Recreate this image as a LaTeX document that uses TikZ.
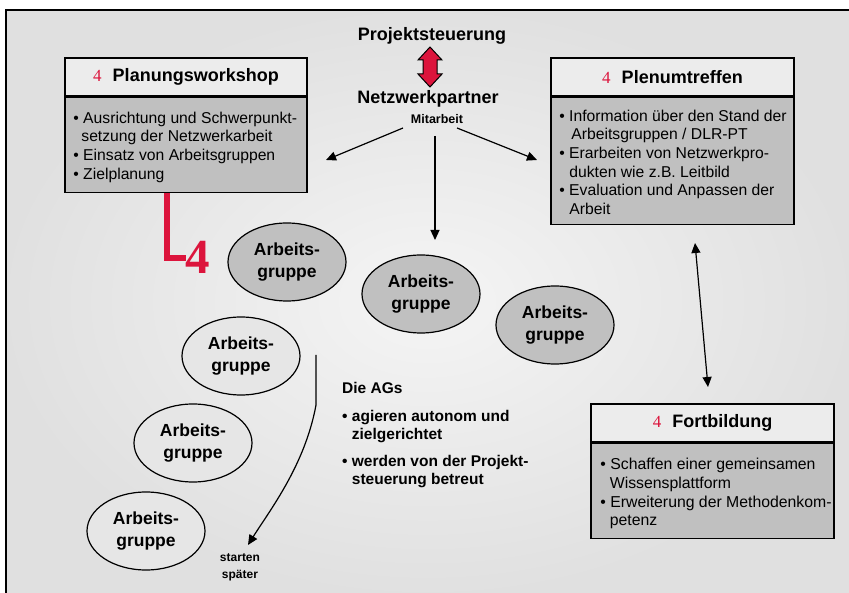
\documentclass[tikz,border=0pt]{standalone}
\usepackage{fontspec}
\setmainfont{Liberation Sans}
\newfontfamily\seriffam{Liberation Serif}
\usetikzlibrary{arrows.meta,shapes.geometric}
\definecolor{crim}{HTML}{DC143C}
\definecolor{boxgray}{HTML}{C0C0C0}
\definecolor{hdrgray}{HTML}{ECECEC}
\definecolor{ellight}{HTML}{E6E6E6}
\begin{document}
\begin{tikzpicture}[x=1pt,y=-1pt,
 hdr/.style={draw=black,line width=1.6pt,fill=hdrgray,minimum width=242pt,minimum height=38pt,inner sep=0pt,font=\fontsize{18}{20}\selectfont\bfseries},
 bodybox/.style={draw=black,line width=1.6pt,fill=boxgray,minimum width=242pt,inner sep=0pt,anchor=north},
 bodytxt/.style={anchor=north west,align=left,inner sep=0pt,font=\fontsize{15.7}{18.6}\selectfont},
 ag/.style={ellipse,draw=black,line width=1.2pt,minimum width=118pt,minimum height=78pt,inner sep=0pt,align=center,font=\fontsize{17.5}{21.5}\selectfont\bfseries},
 agd/.style={ag,fill=boxgray},
 agl/.style={ag,fill=ellight},
 arr/.style={-{Triangle[length=10pt,width=9pt]},line width=1.2pt},
 darr/.style={{Triangle[length=10pt,width=9pt]}-{Triangle[length=10pt,width=9pt]},line width=1.2pt},
 lbl/.style={inner sep=0pt,font=\bfseries},
]
\useasboundingbox (0,0) rectangle (849,593);
\fill[white] (0,0) rectangle (849,593);
\shade[inner color=white!96!black, outer color=white!88!black] (6,10) rectangle (849,593);
\draw[line width=1.5pt] (6,593) -- (6,10) -- (849,10);

% top labels
\node[lbl,font=\fontsize{18}{20}\selectfont\bfseries] (ps) at (432,36) {Projektsteuerung};
\node[lbl,font=\fontsize{18}{20}\selectfont\bfseries] (np) at (428,99) {Netzwerkpartner};
\node[lbl,font=\fontsize{12.5}{14}\selectfont\bfseries] (ma) at (437,119) {Mitarbeit};

% red double arrow
\coordinate (dtop) at (430,47);
\filldraw[fill=crim,draw=black,line width=1pt] (dtop) -- ++(12,13) -- ++(-5,0) -- ++(0,14) -- ++(5,0) -- ++(-12,13) -- ++(-12,-13) -- ++(5,0) -- ++(0,-14) -- ++(-5,0) -- cycle;

% Planungsworkshop
\node[hdr] (pw) at (186,77) {\textcolor{crim}{\fontsize{17}{17}\selectfont\seriffam\mdseries 4}\hspace{11pt}Planungsworkshop};
\node[bodybox,minimum height=95pt] (pwb) at (pw.south) {};
\node[bodytxt] (pwt) at ([xshift=9pt,yshift=-15pt]pwb.north west) {\textbullet\ Ausrichtung und Schwerpunkt-\\\hspace*{8pt}setzung der Netzwerkarbeit\\\textbullet\ Einsatz von Arbeitsgruppen\\\textbullet\ Zielplanung};

% Plenumtreffen
\node[hdr,minimum width=243pt] (pt) at (672.5,77) {\textcolor{crim}{\fontsize{17}{17}\selectfont\seriffam\mdseries 4}\hspace{11pt}Plenumtreffen};
\node[bodybox,minimum width=243pt,minimum height=127pt] (ptb) at (pt.south) {};
\node[bodytxt] (ptt) at ([xshift=9pt,yshift=-13pt]ptb.north west) {\textbullet\ Information über den Stand der\\\hspace*{12pt}Arbeitsgruppen / DLR-PT\\\textbullet\ Erarbeiten von Netzwerkpro-\\\hspace*{10pt}dukten wie z.B. Leitbild\\\textbullet\ Evaluation und Anpassen der\\\hspace*{10pt}Arbeit};

% Fortbildung
\node[hdr,minimum width=243pt] (fb) at (712.5,423) {\textcolor{crim}{\fontsize{17}{17}\selectfont\seriffam\mdseries 4}\hspace{11pt}Fortbildung};
\node[bodybox,minimum width=243pt,minimum height=95pt] (fbb) at (fb.south) {};
\node[bodytxt,font=\fontsize{15.8}{18.8}\selectfont] (fbt) at ([xshift=10pt,yshift=-15pt]fbb.north west) {\textbullet\ Schaffen einer gemeinsamen\\\hspace*{9.5pt}Wissensplattform\\\textbullet\ Erweiterung der Methodenkom-\\\hspace*{9.5pt}petenz};

% red L and big 4
\node[inner sep=0pt,text=crim,font=\fontsize{49}{49}\selectfont\seriffam\bfseries] (big4) at (198,257) {4};
\coordinate (lcorner) at (167,258);
\draw[crim,line width=5.5pt] (pwb.south -| lcorner) -- (lcorner) -- (big4.west |- lcorner);

% Arbeitsgruppen
\node[agd] (ag1) at (287,262) {Arbeits-\\gruppe};
\node[agd] (ag2) at (421,294) {Arbeits-\\gruppe};
\node[agd] (ag3) at (555,325) {Arbeits-\\gruppe};
\node[agl] (ag4) at (241,356) {Arbeits-\\gruppe};
\node[agl] (ag5) at (193,443) {Arbeits-\\gruppe};
\node[agl] (ag6) at (146,531) {Arbeits-\\gruppe};

% arrows from Netzwerkpartner
\coordinate (l0) at (403,128); \coordinate (l1) at (326,160);
\coordinate (r0) at (457,128); \coordinate (r1) at (537,160);
\coordinate (d0) at (435,136); \coordinate (d1) at (435,240);
\draw[arr] (l0) -- (l1);
\draw[arr] (r0) -- (r1);
\draw[arr] (d0) -- (d1);

% double arrow Plenum - Fortbildung
\coordinate (v0) at (695,243); \coordinate (v1) at (708,387);
\draw[darr] (v0) -- (v1);

% Die AGs text
\node[anchor=north west,align=left,inner sep=0pt,font=\fontsize{15.5}{18.6}\selectfont\bfseries] (ags) at (342,382) {Die AGs\\[9pt]\textbullet\ agieren autonom und\\\phantom{\textbullet\ }zielgerichtet\\[8pt]\textbullet\ werden von der Projekt-\\\phantom{\textbullet\ }steuerung betreut};

% starten später
\node[align=center,inner sep=0pt,font=\fontsize{12}{17}\selectfont\bfseries] (sp) at (240,567) {starten\\später};
\coordinate (c0) at (316,355); \coordinate (c1) at (316,405); \coordinate (c2) at (248,545);
\draw[arr] (c0) -- (c1) .. controls (305,465) and (270,510) .. (c2);
\end{tikzpicture}
\end{document}
